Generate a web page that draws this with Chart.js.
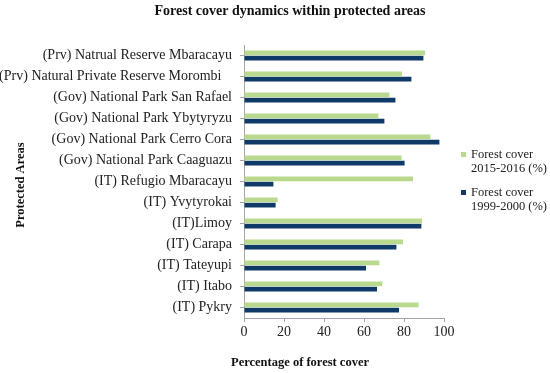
<!DOCTYPE html>
<html>
<head>
<meta charset="utf-8">
<script src="https://cdn.jsdelivr.net/npm/chart.js@4/dist/chart.umd.min.js"></script>
<style>
	html, body { margin: 0; padding: 0; background: #fff; }
	#wrap { position: relative; width: 550px; height: 373px; }
	#legend { position: absolute; left: 461px; top: 147px; font-family: "Liberation Serif", serif; font-size: 12.5px; color: #222; line-height: 14px; }
	.item { position: relative; padding-left: 10px; margin-bottom: 10px; }
	.swatch { position: absolute; left: 0; top: 5px; width: 5px; height: 5px; }
</style>
</head>
<body>
<div id="wrap">
	<canvas id="chart" width="550" height="373"></canvas>
	<div id="legend"></div>
</div>
<script>
// Protected areas, top to bottom as in the figure
const areas = [
	'(Prv) Natrual Reserve Mbaracayu',
	'(Prv) Natural Private Reserve Morombi   ',
	'(Gov) National Park San Rafael',
	'(Gov) National Park Ybytyryzu',
	'(Gov) National Park Cerro Cora',
	'(Gov) National Park Caaguazu',
	'(IT) Refugio Mbaracayu',
	'(IT) Yvytyrokai',
	'(IT)Limoy',
	'(IT) Carapa',
	'(IT) Tateyupi',
	'(IT) Itabo',
	'(IT) Pykry'
];

const cover2015 = [90.5, 79, 72.7, 67.2, 93.2, 78.8, 84.5, 16.8, 89, 79.5, 67.7, 69.2, 87.3];
const cover1999 = [89.7, 83.7, 75.7, 70.2, 97.7, 80.3, 14.7, 15.8, 88.7, 76.2, 61, 66.5, 77.5];

const seriesNames = [['Forest cover', '2015-2016 (%)'], ['Forest cover', '1999-2000 (%)']];
const xTicks = [0, 20, 40, 60, 80, 100];

const GREEN = '#b8d98e';
const NAVY = '#0f3966';
const AXIS = '#a6a6a6';
const SERIF = '"Liberation Serif", "Times New Roman", serif';

// axis and chart titles drawn by hand so they sit where the figure has them
const titlesPlugin = {
	id: 'titles',
	afterDraw(chart) {
		const ctx = chart.ctx;
		ctx.save();
		ctx.fillStyle = '#111';
		ctx.textAlign = 'center';
		ctx.textBaseline = 'middle';
		ctx.font = 'bold 14px ' + SERIF;
		ctx.fillText('Forest cover dynamics within protected areas', 290, 11);
		ctx.font = 'bold 12.5px ' + SERIF;
		ctx.fillText('Percentage of forest cover', 300, 363);
		ctx.translate(21, 185);
		ctx.rotate(-Math.PI / 2);
		ctx.fillText('Protected Areas', 0, 0);
		ctx.restore();
	}
};

new Chart(document.getElementById('chart'), {
	type: 'bar',
	data: {
		labels: areas,
		datasets: [
			{ label: seriesNames[0].join(' '), data: cover2015, backgroundColor: GREEN },
			{ label: seriesNames[1].join(' '), data: cover1999, backgroundColor: NAVY }
		]
	},
	options: {
		indexAxis: 'y',
		responsive: false,
		animation: false,
		datasets: { bar: { categoryPercentage: 0.5, barPercentage: 0.9 } },
		layout: { padding: { top: 45, right: 106, bottom: 0, left: 0 } },
		plugins: { legend: { display: false }, tooltip: { enabled: false } },
		scales: {
			x: {
				min: 0, max: 100,
				afterFit: s => { s.height = 55; },
				afterBuildTicks: s => { s.ticks = xTicks.map(v => ({ value: v })); },
				grid: { drawOnChartArea: false, drawTicks: true, tickLength: 4, color: AXIS },
				border: { color: AXIS },
				ticks: { color: '#222', padding: 2, font: { family: SERIF, size: 14 } }
			},
			y: {
				afterFit: s => { s.width = 244; },
				grid: { offset: false, drawOnChartArea: false, drawTicks: true, tickLength: 4, color: AXIS },
				border: { color: AXIS },
				ticks: { color: '#222', padding: 8, autoSkip: false, font: { family: SERIF, size: 14 } }
			}
		}
	},
	plugins: [titlesPlugin]
});

// legend as html, matching the two-line entries of the figure
const legendEl = document.getElementById('legend');
[GREEN, NAVY].forEach((c, i) => {
	const item = document.createElement('div');
	item.className = 'item';
	item.innerHTML = '<span class="swatch" style="background:' + c + '"></span>' + seriesNames[i].join('<br>');
	legendEl.appendChild(item);
});
</script>
</body>
</html>
